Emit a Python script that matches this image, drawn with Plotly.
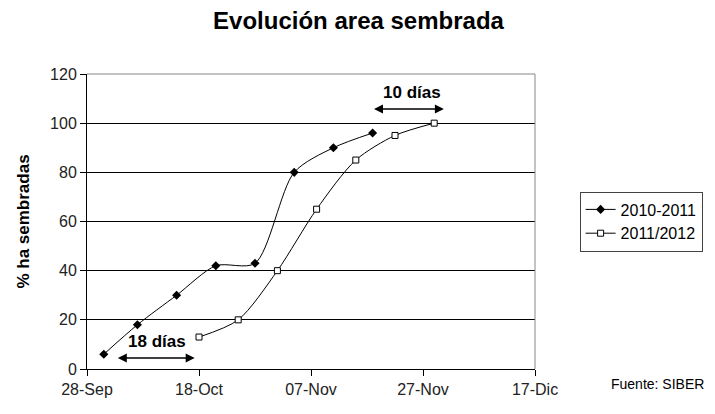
import plotly.graph_objects as go

# Data
dates_1011 = ["2010-10-01", "2010-10-07", "2010-10-14", "2010-10-21",
              "2010-10-28", "2010-11-04", "2010-11-11", "2010-11-18"]
vals_1011 = [6, 18, 30, 42, 43, 80, 90, 96]

dates_1112 = ["2010-10-18", "2010-10-25", "2010-11-01", "2010-11-08",
              "2010-11-15", "2010-11-22", "2010-11-29"]
vals_1112 = [13, 20, 40, 65, 85, 95, 100]

x_tickvals = ["2010-09-28", "2010-10-18", "2010-11-07", "2010-11-27", "2010-12-17"]
x_ticktext = ["28-Sep", "18-Oct", "07-Nov", "27-Nov", "17-Dic"]
y_tickvals = [0, 20, 40, 60, 80, 100, 120]

FONT = "Arial, Liberation Sans, sans-serif"

fig = go.Figure()
fig.add_trace(go.Scatter(
    x=dates_1011, y=vals_1011, name="2010-2011", mode="lines+markers",
    line=dict(color="black", width=1, shape="spline", smoothing=0.8),
    marker=dict(symbol="diamond", size=7, color="black"),
))
fig.add_trace(go.Scatter(
    x=dates_1112, y=vals_1112, name="2011/2012", mode="lines+markers",
    line=dict(color="black", width=1, shape="spline", smoothing=0.8),
    marker=dict(symbol="square", size=6, color="white",
                line=dict(color="black", width=1)),
))

annotations = [
    dict(text="<b>18 días</b>", x="2010-10-10 12:00", y=11, xref="x", yref="y",
         showarrow=False, font=dict(size=17, color="black", family=FONT)),
    dict(x="2010-10-03 12:00", y=4.5, ax="2010-10-17 12:00", ay=4.5,
         xref="x", yref="y", axref="x", ayref="y", text="",
         showarrow=True, arrowhead=2, arrowside="end+start",
         arrowsize=1.2, arrowwidth=1.5, arrowcolor="black"),
    dict(text="<b>10 días</b>", x="2010-11-25", y=112.3, xref="x", yref="y",
         showarrow=False, font=dict(size=17, color="black", family=FONT)),
    dict(x="2010-11-18 06:00", y=105.8, ax="2010-12-01", ay=105.8,
         xref="x", yref="y", axref="x", ayref="y", text="",
         showarrow=True, arrowhead=2, arrowside="end+start",
         arrowsize=1.2, arrowwidth=1.5, arrowcolor="black"),
    dict(text="Fuente: SIBER", x=(704 - 79) / 452, y=-15 / 295,
         xref="paper", yref="paper",
         xanchor="right", yanchor="middle", showarrow=False,
         font=dict(size=14, color="black", family=FONT)),
]

fig.update_layout(
    width=707, height=406,
    margin=dict(l=79, r=176, t=66, b=45),
    paper_bgcolor="white", plot_bgcolor="white",
    font=dict(family=FONT, color="black", size=16),
    title=dict(text="<b>Evolución area sembrada</b>", x=350.5 / 707, xanchor="center",
               y=1 - 12.5 / 406, yanchor="middle", font=dict(size=24, family=FONT)),
    showlegend=True,
    legend=dict(x=(576 - 79) / 452, y=0.5, xanchor="left", yanchor="middle",
                bordercolor="#444", borderwidth=1, bgcolor="white",
                font=dict(size=16, family=FONT), tracegroupgap=0,
                itemwidth=30),
    annotations=annotations,
)

fig.update_xaxes(
    type="date", range=["2010-09-28", "2010-12-17"],
    tickvals=x_tickvals, ticktext=x_ticktext,
    showgrid=False, zeroline=False, automargin=False,
    showline=True, linecolor="black", linewidth=1,
    ticks="outside", ticklen=6, tickcolor="black",
    tickfont=dict(size=16, color="#222"),
)
fig.update_yaxes(
    range=[0, 120], tickvals=y_tickvals,
    showgrid=True, gridcolor="black", gridwidth=1, zeroline=False,
    automargin=False,
    showline=True, linecolor="black", linewidth=1,
    ticks="outside", ticklen=6, tickcolor="black",
    tickfont=dict(size=16, color="#222"),
    title=dict(text="<b>% ha sembradas</b>", font=dict(size=17), standoff=16),
)
# gray top/right frame
fig.add_shape(type="line", xref="paper", yref="paper", x0=0, x1=1, y0=1, y1=1,
              line=dict(color="#888", width=1), layer="above")
fig.add_shape(type="line", xref="paper", yref="paper", x0=1, x1=1, y0=0, y1=1,
              line=dict(color="#888", width=1), layer="above")

fig.write_html("out.html")
